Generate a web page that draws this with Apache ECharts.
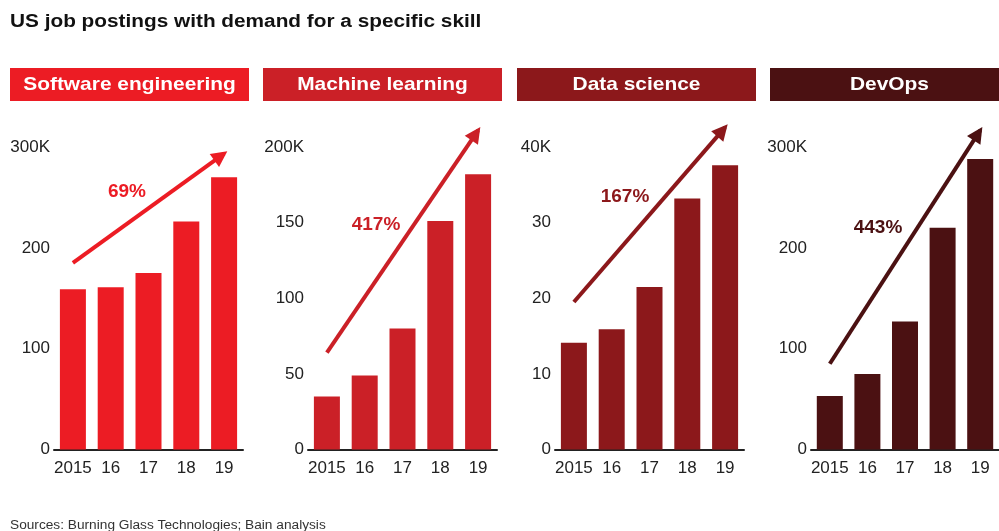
<!DOCTYPE html>
<html>
<head>
<meta charset="utf-8">
<script src="https://cdn.jsdelivr.net/npm/echarts@6/dist/echarts.min.js"></script>
<style>
    html, body {margin: 0; padding: 0; background: #fff;}
    #chart {width: 999px; height: 531px;}
</style>
</head>
<body>
<div id="chart"></div>
<script type="text/javascript">
    // data (K postings)
    var years = ['2015', '16', '17', '18', '19'];
    var skills = ['Software engineering', 'Machine learning', 'Data science', 'DevOps'];
    var software = [159, 161, 175, 226, 270];
    var ml = [35, 49, 80, 151, 182];
    var ds = [14.1, 15.9, 21.5, 33.2, 37.6];
    var devops = [53, 75, 127, 220, 288];
    var yMax = [300, 200, 40, 300];
    var yStep = [100, 50, 10, 100];
    var growth = ['69%', '417%', '167%', '443%'];
    // arrow start / end values (first and last year)
    var arrowFrom = [185, 64, 19.5, 85];
    var arrowTo = [293.5, 211, 42.6, 316.5];

    var colors = ['#ec1c24', '#cb2027', '#8c181b', '#4b1112'];
    var font = 'Liberation Sans, Arial, Helvetica, sans-serif';
    var values = [software, ml, ds, devops];

    // layout: axis range goes 10% above the top tick so the arrows fit
    var headroom = 1.1;
    var gridLeft = [54, 308, 555, 811];
    var gridWidth = 189;
    var plotH = 302.5, plotBottom = 449.5;
    var headX = [10, 263, 517, 770];
    var pctPos = [[127, 192], [376, 225], [625, 197], [878, 228]];

    var myChart = echarts.init(document.getElementById('chart'), null, {renderer: 'canvas'});

    var grids = [], xAxes = [], yAxes = [], series = [], graphics = [];

    graphics.push({
        type: 'text', x: 10, y: 22, scaleX: 1.155,
        style: {text: 'US job postings with demand for a specific skill', fill: '#111',
            font: 'bold 18px ' + font, textVerticalAlign: 'middle'}
    });
    graphics.push({
        type: 'text', x: 10, y: 525,
        style: {text: 'Sources: Burning Glass Technologies; Bain analysis', fill: '#333',
            font: '13.7px ' + font, textVerticalAlign: 'middle'}
    });

    for (var i = 0; i < 4; i++) {
        var axisTop = Math.round(yMax[i] * headroom * 100) / 100;
        grids.push({left: gridLeft[i], width: gridWidth,
            top: plotBottom - plotH * headroom, bottom: 531 - plotBottom});
        xAxes.push({
            type: 'category', gridIndex: i, data: years,
            axisLine: {lineStyle: {color: '#222', width: 2}},
            axisTick: {show: false},
            axisLabel: {color: '#222', fontSize: 17, fontFamily: font, margin: 10, interval: 0}
        });
        (function (max) {
            yAxes.push({
                type: 'value', gridIndex: i, min: 0, max: axisTop, interval: yStep[i],
                splitLine: {show: false}, axisLine: {show: false}, axisTick: {show: false},
                axisLabel: {
                    color: '#222', fontSize: 17, fontFamily: font, margin: 4,
                    formatter: function (v) {
                        if (v > max) return '';
                        return v === max ? v + 'K' : v;
                    }
                }
            });
        })(yMax[i]);
        series.push({
            type: 'bar', xAxisIndex: i, yAxisIndex: i,
            data: values[i], barWidth: 26,
            itemStyle: {color: colors[i]},
            silent: true,
            markLine: {
                silent: true,
                symbol: ['none', 'triangle'],
                symbolSize: 16,
                // pull the head back a bit so it covers the line end
                symbolOffset: [0, [0, 4]],
                label: {show: false},
                lineStyle: {color: colors[i], width: 4, type: 'solid'},
                emphasis: {disabled: true},
                data: [[{coord: [0, arrowFrom[i]]}, {coord: [4, arrowTo[i]]}]]
            }
        });
        // header box
        graphics.push({
            type: 'rect', left: headX[i], top: 68,
            shape: {width: 239, height: 33},
            style: {fill: colors[i]}
        });
        graphics.push({
            type: 'text', x: headX[i] + 119.5, y: 85, scaleX: 1.1,
            style: {text: skills[i], fill: '#fff', font: 'bold 19px ' + font,
                textAlign: 'center', textVerticalAlign: 'middle'}
        });
        graphics.push({
            type: 'text', x: pctPos[i][0], y: pctPos[i][1],
            style: {text: growth[i], fill: colors[i], font: 'bold 19px ' + font,
                textAlign: 'center', textVerticalAlign: 'middle'}
        });
    }

    var option = {
        animation: false,
        grid: grids,
        xAxis: xAxes,
        yAxis: yAxes,
        series: series,
        graphic: graphics
    };
    myChart.setOption(option);
</script>
</body>
</html>
